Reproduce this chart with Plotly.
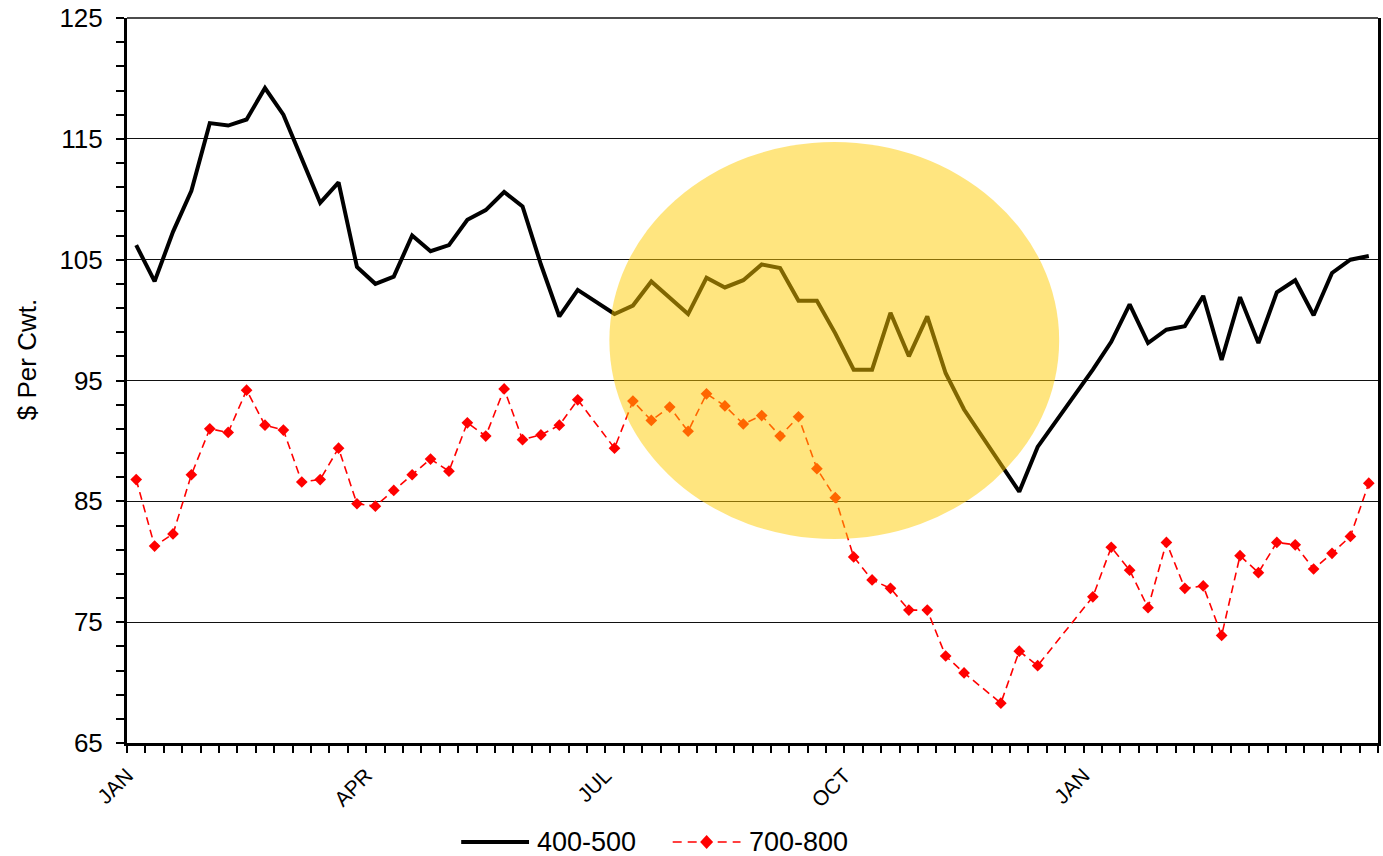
import plotly.graph_objects as go

# Weekly feeder cattle prices, $ per cwt (index 0 = first week of January)
weeks = list(range(68))

steers_400_500 = [
    106.2, 103.2, 107.3, 110.7, 116.3, 116.1, 116.6, 119.2, 117.0, 113.3,
    109.7, 111.4, 104.4, 103.0, 103.6, 107.0, 105.7, 106.2, 108.3, 109.1,
    110.6, 109.4, 104.6, 100.3, 102.5, None, 100.5, 101.2, 103.2, 101.8,
    100.5, 103.5, 102.7, 103.3, 104.6, 104.3, 101.6, 101.6, 98.9, 95.9,
    95.9, 100.6, 97.0, 100.3, 95.6, 92.6, None, 88.1, 85.8, 89.5,
    None, None, 95.9, 98.2, 101.3, 98.1, 99.2, 99.5, 102.0, 96.7,
    101.9, 98.1, 102.3, 103.3, 100.4, 103.9, 105.0, 105.3,
]

steers_700_800 = [
    86.8, 81.3, 82.3, 87.2, 91.0, 90.7, 94.2, 91.3, 90.9, 86.6,
    86.8, 89.4, 84.8, 84.6, 85.9, 87.2, 88.5, 87.5, 91.5, 90.4,
    94.3, 90.1, 90.5, 91.3, 93.4, None, 89.4, 93.3, 91.7, 92.8,
    90.8, 93.9, 92.9, 91.4, 92.1, 90.4, 92.0, 87.7, 85.3, 80.4,
    78.5, 77.8, 76.0, 76.0, 72.2, 70.8, None, 68.3, 72.6, 71.4,
    None, None, 77.1, 81.2, 79.3, 76.2, 81.6, 77.8, 78.0, 73.9,
    80.5, 79.1, 81.6, 81.4, 79.4, 80.7, 82.1, 86.5,
]

month_weeks = [0, 13, 26, 39, 52]
month_labels = ["JAN", "APR", "JUL", "OCT", "JAN"]

FONT = "Arial, Liberation Sans, sans-serif"

fig = go.Figure()

fig.add_trace(go.Scatter(
    x=weeks, y=steers_400_500, name="400-500", mode="lines",
    line=dict(color="black", width=4), connectgaps=True, showlegend=False,
))
fig.add_trace(go.Scatter(
    x=weeks, y=steers_700_800, name="700-800", mode="lines+markers",
    line=dict(color="#FF0000", width=1.6, dash="8px,5px"),
    marker=dict(symbol="diamond", size=9, color="#FF0000"),
    connectgaps=True, showlegend=False,
))

# highlighted period: translucent gold ellipse over the fall weeks
fig.add_shape(
    type="circle", xref="x", yref="y",
    x0=25.72, x1=50.17, y0=81.88, y1=114.74,
    fillcolor="#FFCC00", opacity=0.5, line=dict(width=0), layer="above",
)

# thin frame line along the top of the plot area
fig.add_shape(type="line", xref="paper", yref="paper", x0=0, x1=1, y0=1, y1=1,
              line=dict(color="#111111", width=1.5), layer="below")

# legend drawn by hand below the plot
def px_x(p):
    return (p - 127) / 1254

def px_y(p):
    return (743 - p) / 725

ly = px_y(842)
fig.add_shape(type="line", xref="paper", yref="paper",
              x0=px_x(462), x1=px_x(530), y0=ly, y1=ly,
              line=dict(color="black", width=4))
fig.add_shape(type="line", xref="paper", yref="paper",
              x0=px_x(674), x1=px_x(742), y0=ly, y1=ly,
              line=dict(color="#FF0000", width=1.6, dash="9px,6px"))
cx, cy = px_x(708), ly
dx, dy = 6.5 / 1254, 7 / 725
fig.add_shape(type="path", xref="paper", yref="paper",
              path=f"M {cx - dx} {cy} L {cx} {cy + dy} L {cx + dx} {cy} L {cx} {cy - dy} Z",
              fillcolor="#FF0000", line=dict(width=0))
for label, left in (("400-500", 536), ("700-800", 748)):
    fig.add_annotation(text=label, xref="paper", yref="paper",
                       x=px_x(left), y=ly, xanchor="left", yanchor="middle",
                       showarrow=False, font=dict(family=FONT, size=27, color="black"))

fig.add_annotation(text="$ Per Cwt.", xref="paper", yref="paper",
                   x=px_x(27), y=px_y(360), textangle=-90,
                   xanchor="center", yanchor="middle", showarrow=False,
                   font=dict(family=FONT, size=26, color="black"))

# week boundaries carry the tick marks; month labels sit on the boundary
# that opens each quarter
fig.update_xaxes(
    range=[-0.5, 67.5],
    tickmode="array", tickvals=[w - 0.5 for w in month_weeks], ticktext=month_labels,
    tickangle=-45, ticks="outside", ticklen=7, tickwidth=1.5, tickcolor="black",
    ticklabelstandoff=2,
    tickfont=dict(family=FONT, size=21, color="black"),
    showgrid=False, zeroline=False,
    showline=True, linecolor="black", linewidth=3,
    minor=dict(tickmode="array", tickvals=[w - 0.5 for w in weeks] + [67.5],
               ticks="outside", ticklen=7, tickwidth=1.5, tickcolor="black",
               showgrid=False),
)
fig.update_yaxes(
    range=[65, 125],
    tickmode="linear", tick0=65, dtick=10,
    ticks="outside", ticklen=8, tickwidth=1.5, tickcolor="black",
    ticklabelstandoff=8,
    tickfont=dict(family=FONT, size=26, color="black"),
    showgrid=True, gridcolor="#111111", gridwidth=1.3,
    zeroline=False,
    showline=True, linecolor="black", linewidth=3, mirror=True,
    minor=dict(tick0=65, dtick=2, ticks="outside", ticklen=8, tickwidth=1.5,
               tickcolor="black", showgrid=False),
)

fig.update_layout(
    width=1383, height=856,
    margin=dict(l=127, r=2, t=18, b=113),
    paper_bgcolor="white", plot_bgcolor="white",
    font=dict(family=FONT, color="black"),
)

fig.write_html("out.html")
